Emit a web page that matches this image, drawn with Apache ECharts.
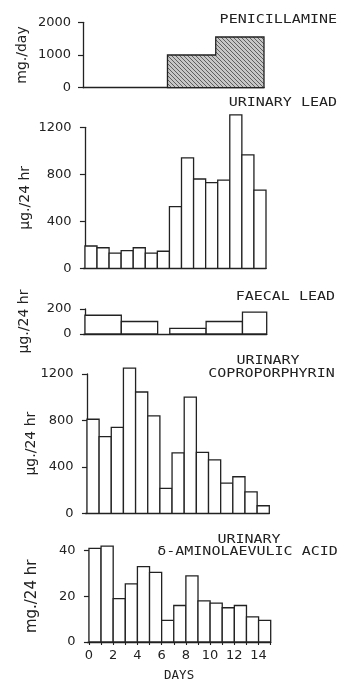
<!DOCTYPE html>
<html><head><meta charset="utf-8">
<script src="https://cdn.jsdelivr.net/npm/echarts@6/dist/echarts.min.js"></script>
<style>html,body{margin:0;padding:0;background:#fff}#c{width:344px;height:683px}</style>
</head><body><div id="c"></div>
<script>
// ---- data ----
const days = [0,1,2,3,4,5,6,7,8,9,10,11,12,13,14];
const dayTickValues = [0,1,2,3,4,5,6,7,8,9,10,11,12,13,14,15];
const dayLabelValues = [0,2,4,6,8,10,12,14];
const penicillamine = [0,0,0,0,0,0,0,1000,1000,1000,1000,1550,1550,1550,1550];
const urinaryLead = [190,175,130,150,175,130,145,525,940,760,730,750,1305,965,665];
const faecalStart = [0,3,7,10,13];
const faecalEnd = [3,6,10,13,15];
const faecalLead = [150,100,45,100,175];
const coproporphyrin = [810,660,740,1250,1045,840,215,520,1000,525,460,260,315,185,65];
const ala = [41,42,19,25.5,33,30.5,9.5,16,29,18,17,15,16,11,9.5];
const yNames = ['mg./day','\u03bcg./24 hr','\u03bcg./24 hr','\u03bcg./24 hr','mg./24 hr'];
const yMax = [2000,1200,200,1200,40];
const yInterval = [1000,400,200,400,20];

// ---- style ----
const INK = '#222';
const LW = 1.3;
const FONT = 'DejaVu Sans';
const MONO = 'DejaVu Sans Mono';

function hatchCanvas(){
  const c = document.createElement('canvas'); c.width = 4; c.height = 4;
  const g = c.getContext('2d');
  g.fillStyle = '#c6c6c6'; g.fillRect(0,0,4,4);
  g.fillStyle = '#5e5e5e';
  for (let i=0;i<4;i++) g.fillRect(i,i,1,1);
  return c;
}
const hatch = {image: hatchCanvas(), repeat: 'repeat'};

// panel geometry: axis x, bar end x, top y, bottom y, xmin
const panels = [
  {left:83,   end:264,   top:22.3,  bottom:87.7,  xmin:0},
  {left:83.5, end:266,   top:127.3, bottom:268.3, xmin:-0.12},
  {left:83.5, end:266.7, top:309,   bottom:334,   xmin:-0.12},
  {left:85.5, end:269.3, top:374,   bottom:513.3, xmin:-0.12},
  {left:87.5, end:270.7, top:550.7, bottom:644.3, xmin:-0.12}
];
const nameGaps = [54, 51.5, 52.5, 47.5, 47.5];
const nameSizes = [14, 14, 14, 14, 15];

const grids = [], xAxes = [], yAxes = [];
panels.forEach((p,i)=>{
  grids.push({left:p.left, width:p.end-p.left, top:p.top, height:p.bottom-p.top, containLabel:false});
  const last = i===panels.length-1;
  xAxes.push({
    type:'value', gridIndex:i, min:p.xmin, max:15,
    axisLine:{show:true, lineStyle:{color:INK, width:LW}},
    axisTick:{show:last, customValues:dayTickValues, length:3, lineStyle:{color:INK, width:1.1}},
    axisLabel:{show:last, customValues:dayLabelValues, color:INK, fontFamily:FONT, fontSize:13, margin:7},
    splitLine:{show:false},
    name: last ? 'DAYS' : '', nameLocation:'middle', nameGap:27, nameMoveOverlap:false,
    nameTextStyle:{color:INK, fontFamily:MONO, fontSize:12.5}
  });
  yAxes.push({
    type:'value', gridIndex:i, min:0, max:yMax[i], interval:yInterval[i],
    axisLine:{show:true, lineStyle:{color:INK, width:LW}},
    axisTick:{show:true, inside:false, length:5, lineStyle:{color:INK, width:1.2}},
    axisLabel:{color:INK, fontFamily:FONT, fontSize:13, margin:12, formatter:(v)=>String(v)},
    splitLine:{show:false},
    name:yNames[i], nameLocation:'middle', nameRotate:90, nameGap:nameGaps[i], nameMoveOverlap:false,
    nameTextStyle:{color:INK, fontFamily:FONT, fontSize:nameSizes[i]}
  });
});

function rectItem(params, api){
  const s = api.value(0), e = api.value(1), v = api.value(2);
  if (!v) return null;
  const a = api.coord([s,0]), b = api.coord([e,v]);
  return {type:'rect', shape:{x:a[0], y:b[1], width:b[0]-a[0], height:a[1]-b[1]},
          style:{fill:'#fff', stroke:INK, lineWidth:LW}};
}
function daily(arr){ return days.map(d=>[d, d+1, arr[d]]); }

function penItem(params, api){
  if (params.dataIndex !== 0) return null;
  let first=-1, last=-1;
  penicillamine.forEach((v,i)=>{ if (v>0){ if(first<0) first=i; last=i; } });
  const pts = [api.coord([first,0])];
  for (let i=first;i<=last;i++){
    pts.push(api.coord([i, penicillamine[i]]));
    pts.push(api.coord([i+1, penicillamine[i]]));
  }
  pts.push(api.coord([last+1,0]));
  return {type:'polygon', shape:{points:pts}, style:{fill:hatch, stroke:INK, lineWidth:LW}};
}

const series = [
  {type:'custom', xAxisIndex:0, yAxisIndex:0, renderItem:penItem, data:daily(penicillamine), encode:{x:[0,1], y:2}, clip:false},
  {type:'custom', xAxisIndex:1, yAxisIndex:1, renderItem:rectItem, data:daily(urinaryLead), encode:{x:[0,1], y:2}, clip:false},
  {type:'custom', xAxisIndex:2, yAxisIndex:2, renderItem:rectItem,
    data:faecalLead.map((v,i)=>[faecalStart[i], faecalEnd[i], v]), encode:{x:[0,1], y:2}, clip:false},
  {type:'custom', xAxisIndex:3, yAxisIndex:3, renderItem:rectItem, data:daily(coproporphyrin), encode:{x:[0,1], y:2}, clip:false},
  {type:'custom', xAxisIndex:4, yAxisIndex:4, renderItem:rectItem, data:daily(ala), encode:{x:[0,1], y:2}, clip:false}
];

function title(text, x, y, align){
  return {type:'text', x:x, y:y, scaleX:1.2, z:10,
    style:{text:text, x:0, y:0, fill:INK, font:'12.5px "'+MONO+'"', textAlign:align, textVerticalAlign:'middle'}};
}

const chart = echarts.init(document.getElementById('c'), null, {renderer:'canvas'});
chart.setOption({
  backgroundColor:'#fff',
  animation:false,
  grid:grids, xAxis:xAxes, yAxis:yAxes, series:series,
  graphic:[
    title('PENICILLAMINE', 337, 19.5, 'right'),
    title('URINARY LEAD', 337, 102.5, 'right'),
    title('FAECAL LEAD', 335, 296.5, 'right'),
    title('URINARY', 268, 360.5, 'center'),
    title('COPROPORPHYRIN', 271.5, 373.5, 'center'),
    title('URINARY', 249, 539.5, 'center'),
    title('\u03b4-AMINOLAEVULIC ACID', 247.5, 552, 'center')
  ]
});
</script>
</body></html>
